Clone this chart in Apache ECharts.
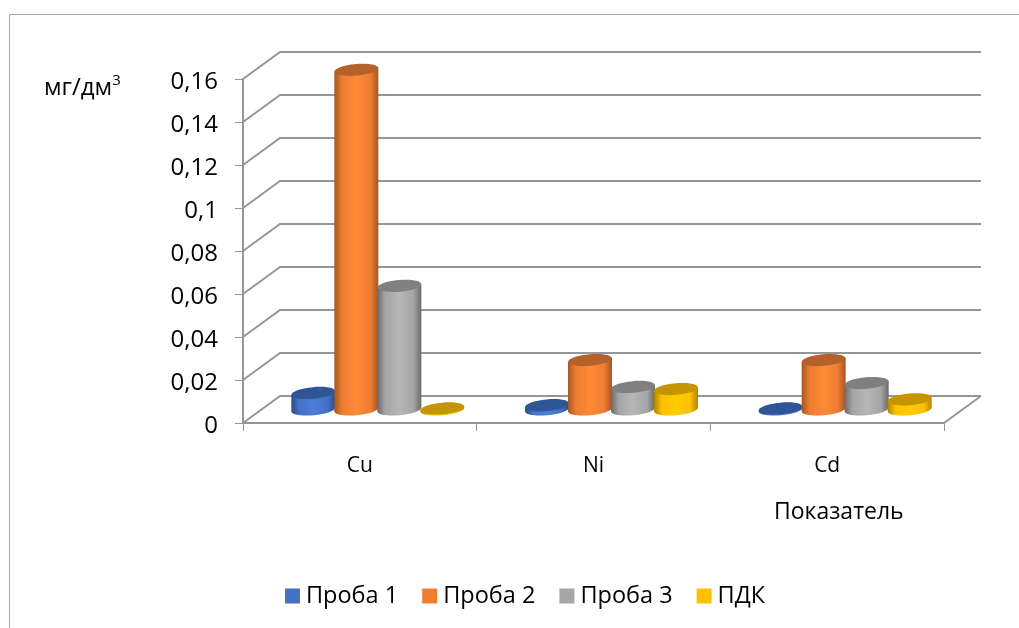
<!DOCTYPE html>
<html><head><meta charset="utf-8">
<style>html,body{margin:0;padding:0;background:#fff}#c{width:1019px;height:628px}</style>
<script src="https://cdn.jsdelivr.net/npm/echarts@6/dist/echarts.min.js"></script>
</head><body><div id="c"></div>
<script>
const categories = ['Cu', 'Ni', 'Cd'];
const proba1 = [0.0077, 0.002, 0.0005];
const proba2 = [0.158, 0.023, 0.023];
const proba3 = [0.0575, 0.0105, 0.0123];
const pdk = [0.0005, 0.0095, 0.0047];
const yTicks = [0, 0.02, 0.04, 0.06, 0.08, 0.1, 0.12, 0.14, 0.16];
const yTickLabels = ['0', '0,02', '0,04', '0,06', '0,08', '0,1', '0,12', '0,14', '0,16'];

const FONT = '"Open Sans", sans-serif';
const DX = 37, DY = -27;
const GRID = '#969696';
const chart = echarts.init(document.getElementById('c'), null, {renderer: 'canvas'});

const palette = [
  {name: 'Проба 1', data: proba1, base: '#4472C4', edge: '#2A4D8C', mid: '#4C7ED8', top: '#2F5597'},
  {name: 'Проба 2', data: proba2, base: '#ED7D31', edge: '#A55722', mid: '#FF8A36', top: '#B5622A'},
  {name: 'Проба 3', data: proba3, base: '#A5A5A5', edge: '#6A6A6A', mid: '#B6B6B6', top: '#808080'},
  {name: 'ПДК',     data: pdk,    base: '#FFC000', edge: '#B08500', mid: '#FFCC00', top: '#C49500'}
];

function wallItem(params, api) {
  const cs = params.coordSys;
  const y = api.coord([0, api.value(0)])[1];
  const x0 = cs.x, x1 = cs.x + cs.width;
  const pts = [[x0, y], [x0 + DX, y + DY], [x1 + DX, y + DY]];
  const children = [{type: 'polyline', shape: {points: pts}, style: {stroke: GRID, lineWidth: 2, fill: null}}];
  if (api.value(0) === 0) {
    children.push({type: 'line', shape: {x1: x1, y1: y, x2: x1 + DX, y2: y + DY}, style: {stroke: GRID, lineWidth: 2}});
  }
  return {type: 'group', children};
}

function barRenderer(seriesIndex, p) {
  return function (params, api) {
    const cat = api.value(0), val = api.value(1);
    const band = api.size([1, 0])[0];
    const w = band * 0.184, rx = w / 2 + 0.5, ry = 5.8, tilt = 2;
    const cx = api.coord([cat, 0])[0] + (seriesIndex - 1.5) * w + DX / 2 - 0.5;
    const yBase = api.coord([cat, 0])[1] + DY / 2;
    const yTop = api.coord([cat, val])[1] + DY / 2;
    const grad = new echarts.graphic.LinearGradient(0, 0, 1, 0, [
      {offset: 0, color: p.edge}, {offset: 0.18, color: p.base},
      {offset: 0.5, color: p.mid}, {offset: 0.82, color: p.base}, {offset: 1, color: p.edge}
    ]);
    const rot = 0.09;
    return {type: 'group', children: [
      {type: 'ellipse', x: cx, y: yBase, rotation: rot, shape: {cx: 0, cy: 0, rx, ry}, style: {fill: grad}},
      {type: 'polygon', shape: {points: [[cx - rx, yTop + tilt], [cx + rx, yTop - tilt], [cx + rx, yBase - tilt], [cx - rx, yBase + tilt]]}, style: {fill: grad}},
      {type: 'ellipse', x: cx, y: yTop, rotation: rot, shape: {cx: 0, cy: 0, rx, ry}, style: {fill: p.top}}
    ]};
  };
}

const barSeries = palette.map((p, i) => ({
  type: 'custom', name: p.name, z: 3,
  itemStyle: {color: p.base},
  renderItem: barRenderer(i, p),
  encode: {x: 0, y: 1},
  data: categories.map((c, k) => [k, p.data[k]])
}));

chart.setOption({
  animation: false,
  backgroundColor: '#fff',
  textStyle: {fontFamily: FONT},
  grid: {left: 243, right: 75, top: 79, bottom: 205},
  title: {
    left: 39, top: 68,
    text: '{a|мг/дм}{b|3}',
    textStyle: {fontWeight: 'normal', rich: {
      a: {fontFamily: FONT, fontSize: 24, fontWeight: 'normal', color: '#000', lineHeight: 30},
      b: {fontFamily: FONT, fontSize: 15, fontWeight: 'normal', color: '#000', verticalAlign: 'top', lineHeight: 20}
    }}
  },
  legend: {
    left: 280, top: 579, itemWidth: 15, itemHeight: 15, itemGap: 24,
    icon: 'rect',
    data: palette.map(p => p.name),
    textStyle: {fontFamily: FONT, fontSize: 23.5, color: '#000', padding: [2, 0, 0, 1]},
    selectedMode: false
  },
  xAxis: {
    type: 'category', data: categories, boundaryGap: true,
    axisLine: {show: true, lineStyle: {color: GRID, width: 2}},
    axisTick: {show: true, length: 8, alignWithLabel: false, lineStyle: {color: GRID, width: 1}},
    axisLabel: {margin: 33, fontFamily: FONT, fontSize: 21, color: '#000'},
    splitLine: {show: false}
  },
  yAxis: {
    type: 'value', min: 0, max: 0.16, interval: 0.02,
    axisLine: {show: true, lineStyle: {color: GRID, width: 2}},
    axisTick: {show: true, length: 8, lineStyle: {color: GRID, width: 1}},
    axisLabel: {
      margin: 25, color: '#000',
      formatter: (v) => '{v|' + yTickLabels[yTicks.findIndex(t => Math.abs(t - v) < 1e-9)] + '}',
      rich: {v: {fontFamily: FONT, fontSize: 24, color: '#000', padding: [6, 0, 0, 0]}}
    },
    splitLine: {show: false}
  },
  graphic: [
    {type: 'rect', silent: true, z: 0, shape: {x: 9.5, y: 14.5, width: 1100, height: 700}, style: {fill: null, stroke: '#a6a6a6', lineWidth: 1}},
    {type: 'text', left: 774, top: 501, silent: true, style: {text: 'Показатель', font: '23px ' + FONT, fill: '#000'}}
  ],
  series: [
    {type: 'custom', name: 'стены', z: 1, silent: true, renderItem: wallItem, encode: {y: 0}, data: yTicks.map(v => [v])}
  ].concat(barSeries)
});
</script></body></html>
